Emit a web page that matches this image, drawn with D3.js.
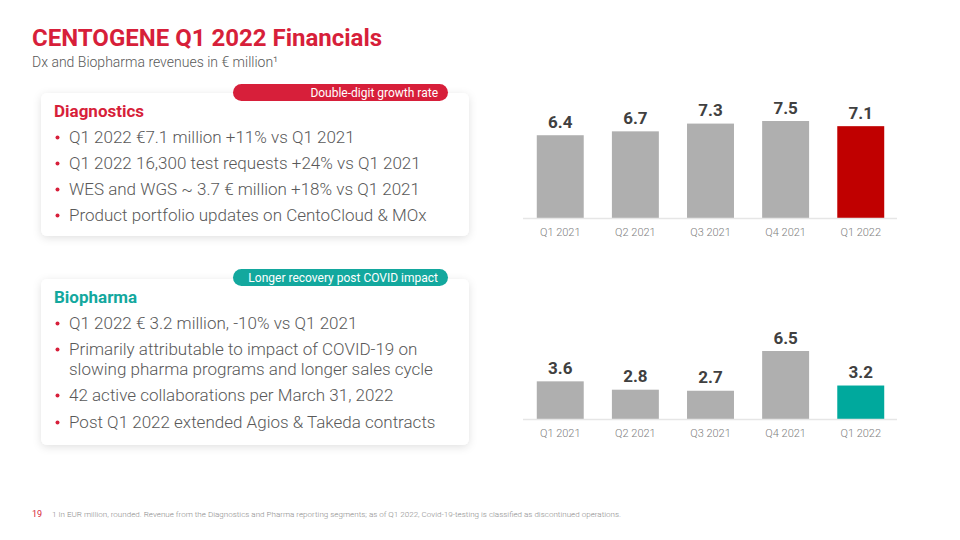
<!DOCTYPE html>
<html><head><meta charset="utf-8">
<script src="https://cdn.jsdelivr.net/npm/d3@7"></script>
<style>
body{margin:0;background:#fff;font-family:Roboto,"Noto Sans",sans-serif;}
</style></head>
<body><svg id="c" width="960" height="540"></svg>
<script>
const categories = ["Q1 2021","Q2 2021","Q3 2021","Q4 2021","Q1 2022"];
const dxValues = [6.4, 6.7, 7.3, 7.5, 7.1];
const bioValues = [3.6, 2.8, 2.7, 6.5, 3.2];
const dxBullets = ["Q1 2022 €7.1 million +11% vs Q1 2021","Q1 2022 16,300 test requests +24% vs Q1 2021","WES and WGS ~ 3.7 € million +18% vs Q1 2021","Product portfolio updates on CentoCloud & MOx"];
const bioBullets = [["Q1 2022 € 3.2 million, -10% vs Q1 2021"],["Primarily attributable to impact of COVID-19 on","slowing pharma programs and longer sales cycle"],["42 active collaborations per March 31, 2022"],["Post Q1 2022 extended Agios & Takeda contracts"]];

const svg = d3.select("#c");
const RED = "#d71f3a", TEAL = "#13a89e", GREY_TXT = "#595959";

const defs = svg.append("defs");
const f = defs.append("filter").attr("id","sh").attr("x","-10%").attr("y","-10%").attr("width","120%").attr("height","130%");
f.append("feDropShadow").attr("dx",0).attr("dy",2).attr("stdDeviation",4).attr("flood-color","#000").attr("flood-opacity",0.12);

// Title
svg.append("text").attr("x",32).attr("y",46).attr("fill",RED).attr("font-size",24).attr("font-weight",700).text("CENTOGENE Q1 2022 Financials");
svg.append("text").attr("x",32).attr("y",67).attr("fill","#595959").attr("font-size",14).attr("font-weight",300).text("Dx and Biopharma revenues in € million¹");

function card(y, h, pillY, pillText, pillColor, heading, headColor, headY, lines){
  svg.append("rect").attr("x",41).attr("y",y).attr("width",428).attr("height",h).attr("rx",6).attr("fill","#fff").attr("filter","url(#sh)");
  svg.append("rect").attr("x",233).attr("y",pillY).attr("width",215).attr("height",17).attr("rx",8.5).attr("fill",pillColor);
  svg.append("text").attr("x",438).attr("y",pillY+12.5).attr("text-anchor","end").attr("fill","#fff").attr("font-size",12).text(pillText);
  svg.append("text").attr("x",54).attr("y",headY).attr("fill",headColor).attr("font-size",17).attr("font-weight",700).text(heading);
  lines.forEach(l=>{
    if(l.bullet) svg.append("circle").attr("cx",57.5).attr("cy",l.y-5.5).attr("r",2).attr("fill",RED);
    svg.append("text").attr("x",69).attr("y",l.y).attr("fill",GREY_TXT).attr("font-size",17).attr("font-weight",300).text(l.t);
  });
}
const dYs=[143,169,195,221];
const dl = dxBullets.map((t,i)=>({t, y:dYs[i], bullet:true}));
card(93,143,84,"Double-digit growth rate",RED,"Diagnostics",RED,117,dl);
const bl=[];
bioBullets.forEach(arr=>arr.forEach((t,j)=>bl.push({t,bullet:j===0})));
const bYs=[329,355,375,401,428];
bl.forEach((d,i)=>d.y=bYs[i]);
card(279,166,269,"Longer recovery post COVID impact",TEAL,"Biopharma",TEAL,303,bl);

function barChart(values, baseY, topY, maxV, hiColor){
  const x = d3.scaleBand().domain(categories).range([524,897]).paddingInner(0.375).paddingOuter(0.17);
  const y = d3.scaleLinear().domain([0,maxV]).range([baseY, topY]);
  const g = svg.append("g");
  g.selectAll("rect.b").data(values).join("rect").attr("class","b")
    .attr("x",(d,i)=>x(categories[i])).attr("width",x.bandwidth())
    .attr("y",d=>y(d)).attr("height",d=>baseY-y(d))
    .attr("fill",(d,i)=>i===values.length-1?hiColor:"#afafaf");
  g.append("line").attr("x1",523).attr("x2",897).attr("y1",baseY+0.5).attr("y2",baseY+0.5).attr("stroke","#e6e6e6").attr("stroke-width",1.5);
  g.selectAll("text.v").data(values).join("text").attr("class","v")
    .attr("x",(d,i)=>x(categories[i])+x.bandwidth()/2).attr("y",d=>y(d)-7.5)
    .attr("text-anchor","middle").attr("font-size",17).attr("font-weight",700).attr("fill","#404040")
    .text(d=>d.toFixed(1));
  const ax = g.append("g").attr("transform",`translate(0,${baseY+7})`).call(d3.axisBottom(x).tickSize(0).tickPadding(0));
  ax.select(".domain").remove();
  ax.selectAll("text").attr("font-size",11).attr("fill","#808080").attr("font-family","Roboto").attr("font-weight",300).attr("dy","1em");
}
barChart(dxValues, 218, 121, 7.5, "#c00000");
barChart(bioValues, 419, 351, 6.5, "#00a99d");

// Footer
svg.append("text").attr("x",32).attr("y",517).attr("fill",RED).attr("font-size",9).text("19");
svg.append("text").attr("x",52).attr("y",517).attr("fill","#8c8c8c").attr("font-size",8.05).attr("font-weight",300).text("1 In EUR million, rounded. Revenue from the Diagnostics and Pharma reporting segments; as of Q1 2022, Covid-19-testing is classified as discontinued operations.");
</script></body></html>
